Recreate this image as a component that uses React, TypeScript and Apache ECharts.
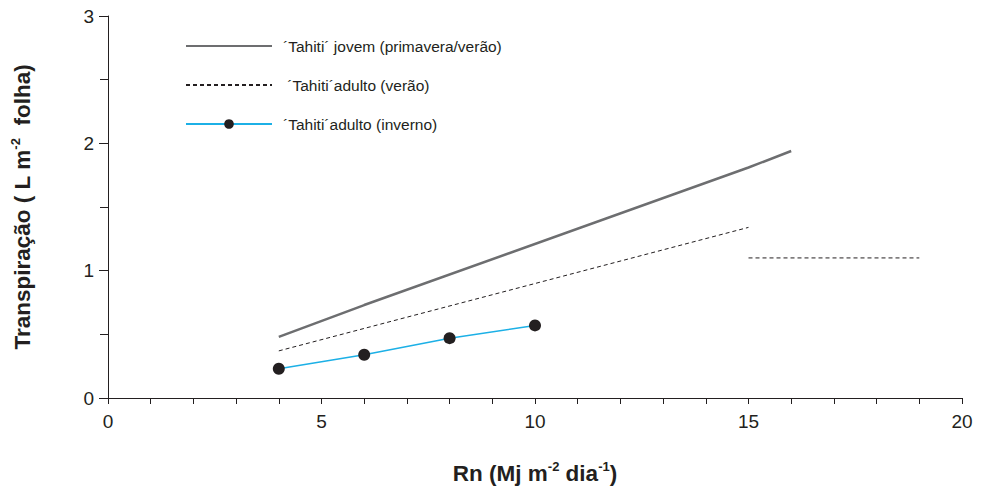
import React, { useEffect, useRef } from "react";
import * as echarts from "echarts";

const NAME_JOVEM = "´Tahiti´ jovem (primavera/verão)";
const NAME_VERAO = " ´Tahiti´adulto (verão)";
const NAME_INVERNO = "´Tahiti´adulto (inverno)";

const jovemData: [number, number][] = [[4, 0.48], [6, 0.73], [15, 1.81], [16, 1.94]];
const veraoData1: [number, number][] = [[4, 0.37], [15, 1.34]];
const veraoData2: [number, number][] = [[15, 1.1], [19, 1.1]];
const invernoData: [number, number][] = [[4, 0.23], [6, 0.34], [8, 0.47], [10, 0.57]];

const FONT = "Liberation Sans";
const INK = "#231f20";

const titleRich = {
  a: { fontSize: 22.5, fontWeight: "bold", color: INK, fontFamily: FONT, lineHeight: 26 },
  s: { fontSize: 13, fontWeight: "bold", color: INK, fontFamily: FONT, lineHeight: 26, verticalAlign: "top" },
};

export default function App() {
  const ref = useRef<HTMLDivElement>(null);
  useEffect(() => {
    if (!ref.current) return;
    const chart = echarts.init(ref.current, undefined, { renderer: "svg" });
    chart.setOption({
      animation: false,
      textStyle: { fontFamily: FONT },
      grid: { left: 108, right: 20, top: 16, bottom: 92, containLabel: false },
      legend: {
        data: [
          { name: NAME_JOVEM, itemStyle: { opacity: 0 } },
          { name: NAME_VERAO, itemStyle: { opacity: 0 } },
          { name: NAME_INVERNO },
        ],
        orient: "vertical",
        left: 180,
        top: 33,
        itemWidth: 86,
        itemHeight: 12,
        itemGap: 23,
        textStyle: { fontSize: 15.5, color: INK, fontFamily: FONT, padding: [0, 0, 0, 6] },
      },
      xAxis: {
        type: "value",
        min: 0,
        max: 20,
        interval: 5,
        name: "{a|Rn (Mj m}{s|-2}{a| dia}{s|-1}{a|)}",
        nameLocation: "middle",
        nameGap: 62,
        nameTextStyle: { rich: titleRich },
        axisLine: { show: true, lineStyle: { color: INK, width: 1 } },
        axisTick: { show: true, length: 6, lineStyle: { color: INK } },
        minorTick: { show: true, splitNumber: 5, length: 6, lineStyle: { color: INK } },
        axisLabel: { fontSize: 19, color: INK, margin: 14, fontFamily: FONT },
        splitLine: { show: false },
      },
      yAxis: {
        type: "value",
        min: 0,
        max: 3,
        interval: 1,
        name: "{a|Transpiração ( L m}{s|-2}{a|  folha)}",
        nameLocation: "middle",
        nameGap: 73,
        nameRotate: 90,
        nameTextStyle: { rich: titleRich },
        axisLine: { show: true, lineStyle: { color: INK, width: 1 } },
        axisTick: { show: true, length: 9, lineStyle: { color: INK } },
        minorTick: { show: true, splitNumber: 2, length: 8, lineStyle: { color: INK } },
        axisLabel: { fontSize: 19, color: INK, margin: 14, fontFamily: FONT },
        splitLine: { show: false },
      },
      series: [
        {
          name: NAME_JOVEM,
          type: "line",
          data: jovemData,
          symbol: "none",
          lineStyle: { color: "#6d6e70", width: 2.5 },
          itemStyle: { color: "#6d6e70" },
        },
        {
          name: NAME_VERAO,
          type: "line",
          data: veraoData1,
          symbol: "none",
          lineStyle: { color: INK, width: 1, type: [4, 3] },
          itemStyle: { color: INK },
        },
        {
          name: NAME_VERAO,
          type: "line",
          data: veraoData2,
          symbol: "none",
          lineStyle: { color: INK, width: 1, type: [4, 3] },
          itemStyle: { color: INK },
        },
        {
          name: NAME_INVERNO,
          type: "line",
          data: invernoData,
          symbol: "circle",
          symbolSize: 12,
          lineStyle: { color: "#1cb0e6", width: 1.5 },
          itemStyle: { color: INK },
        },
      ],
    });
    return () => chart.dispose();
  }, []);
  return <div ref={ref} style={{ width: 982, height: 490, position: "absolute", left: 0, top: 0 }} />;
}
